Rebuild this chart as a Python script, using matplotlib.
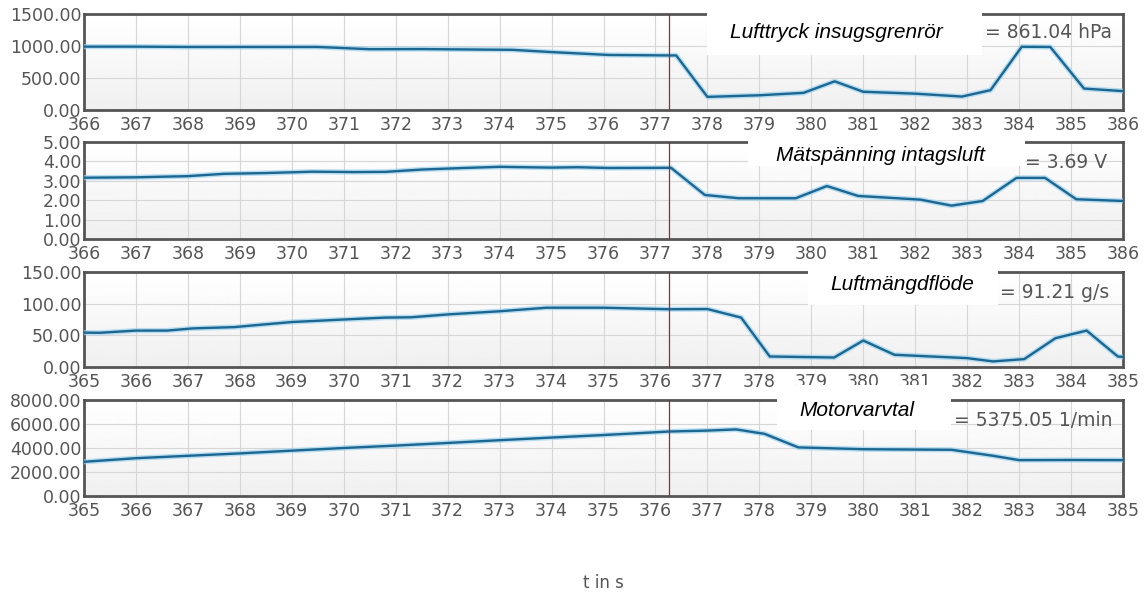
"""
Four stacked signal traces (air pressure, sensor voltage, air mass flow,
engine speed) with a cursor line and a value readout per panel.
"""

import numpy as np
import matplotlib.pyplot as plt
from matplotlib.patches import Rectangle

# ---------------------------------------------------------------------
# Data
# ---------------------------------------------------------------------

p1_t = [366, 367, 368, 370.5, 371.5, 372.5, 374.25, 375, 376.1, 377.4, 378.0,
        379.0, 379.85, 380.45, 381.0, 382.0, 382.9, 383.45, 384.05, 384.6,
        385.25, 386]
p1_v = [990, 990, 985, 985, 950, 952, 940, 905, 860, 852, 205,
        230, 268, 448, 285, 255, 210, 310, 988, 985,
        335, 295]

p2_t = [366, 367, 368, 368.7, 369.5, 370.4, 371.2, 371.8, 372.5, 373.3, 374.0,
        375, 375.5, 376.1, 377.3, 377.95, 378.6, 379.7, 380.3, 380.9, 382.1,
        382.7, 383.3, 383.95, 384.5, 385.1, 386]
p2_v = [3.16, 3.18, 3.24, 3.36, 3.40, 3.47, 3.45, 3.46, 3.58, 3.66, 3.72,
        3.68, 3.70, 3.66, 3.67, 2.27, 2.10, 2.10, 2.73, 2.22, 2.03,
        1.72, 1.96, 3.15, 3.15, 2.05, 1.96]

p3_t = [365, 365.3, 366, 366.6, 367.1, 367.9, 368.3, 369, 370, 370.8, 371.3,
        372, 373, 373.9, 375, 376.27, 377.0, 377.65, 378.2, 379.44, 380.0,
        380.6, 382.0, 382.5, 383.1, 383.7, 384.3, 384.9, 385]
p3_v = [54.3, 54, 57.5, 57.5, 61, 63, 66, 71, 75, 78, 78.5,
        83, 88, 93.6, 93.6, 91.2, 91.5, 78, 16.6, 15, 41.8,
        19.3, 14, 8.8, 12.5, 45.5, 57.5, 16.6, 16]

p4_t = [365, 366, 367, 368, 369, 370, 371, 372, 373, 374, 375, 376.27, 377,
        377.55, 378.1, 378.75, 380, 381.7, 382.5, 383.0, 384, 385]
p4_v = [2850, 3150, 3350, 3550, 3780, 4000, 4200, 4420, 4650, 4870, 5080,
        5375, 5450, 5550, 5180, 4050, 3900, 3850, 3350, 2990, 3000, 2990]

names = ["Lufttryck insugsgrenrör", "Mätspänning intagsluft",
         "Luftmängdflöde", "Motorvarvtal"]
readouts = ["= 861.04 hPa", "= 3.69 V", "= 91.21 g/s", "= 5375.05 1/min"]
x_ranges = [(366, 386), (366, 386), (365, 385), (365, 385)]
y_ticks = [[0, 500, 1000, 1500], [0, 1, 2, 3, 4, 5],
           [0, 50, 100, 150], [0, 2000, 4000, 6000, 8000]]
cursors = [377.27, 377.27, 376.27, 376.27]

# ---------------------------------------------------------------------
# Layout (pixel boxes in the 1145 x 593 picture)
# ---------------------------------------------------------------------

W, H = 1145, 593
panel_px = [(14, 110), (142, 239), (272, 367), (400, 496)]   # top, bottom
left_px, right_px = 84, 1123
label_boxes = [(707, 982, 0, 55), (748, 1025, 135, 166),
               (808, 998, 260, 305), (777, 951, 385, 430)]
label_xy = [(836, 33), (880, 155), (902, 284), (857, 411)]
readout_xy = [(985, 32), (1025, 162), (1000, 292), (954, 420)]

LINE = "#1b6792"
HALO = "#9fd3ee"
TEXT = "#555555"


def fx(px):
    return px / W


def fy(py):
    return 1 - py / H


def draw_panel(ax, t, v, xr, yt, cursor):
    """
    One trace panel: gradient background, grid, halo line, cursor.
    """
    grad = np.linspace(1.0, 0.94, 50).reshape(-1, 1)
    ax.imshow(grad, cmap="gray", vmin=0, vmax=1, aspect="auto",
              extent=[0, 1, 0, 1], transform=ax.transAxes, zorder=0)
    ax.plot(t, v, color=HALO, lw=3.8, alpha=0.7, zorder=3,
            solid_joinstyle="round")
    ax.plot(t, v, color=LINE, lw=1.7, zorder=4, solid_joinstyle="round")
    ax.axvline(cursor, color="#9b2b2b", lw=0.9, zorder=5)

    ax.set_xlim(*xr)
    ax.set_ylim(yt[0], yt[-1])
    ax.set_xticks(range(xr[0], xr[1] + 1))
    ax.set_yticks(yt)
    ax.set_yticklabels([f"{y:.2f}" for y in yt])
    ax.grid(True, color="#d6d6d6", lw=0.8, zorder=1)
    ax.set_axisbelow(True)
    ax.tick_params(length=0, labelsize=12.5, labelcolor=TEXT)
    ax.tick_params(axis="x", pad=4)
    ax.tick_params(axis="y", pad=2)
    for s in ax.spines.values():
        s.set_color("#555555")
        s.set_linewidth(2)


fig = plt.figure(figsize=(W / 100, H / 100), dpi=100)

series = [(p1_t, p1_v), (p2_t, p2_v), (p3_t, p3_v), (p4_t, p4_v)]
for i, (t, v) in enumerate(series):
    top, bot = panel_px[i]
    ax = fig.add_axes([fx(left_px), fy(bot), (right_px - left_px) / W,
                       (bot - top) / H])
    draw_panel(ax, t, v, x_ranges[i], y_ticks[i], cursors[i])

    # white label box laid over the top right of the panel
    x0, x1, y0, y1 = label_boxes[i]
    fig.patches.append(Rectangle((fx(x0), fy(y1)), (x1 - x0) / W,
                                 (y1 - y0) / H, transform=fig.transFigure,
                                 facecolor="white", edgecolor="none",
                                 zorder=10))
    fig.text(fx(label_xy[i][0]), fy(label_xy[i][1]), names[i],
             family="Liberation Sans", style="italic", fontsize=15,
             color="black", ha="center", va="center", zorder=11)
    fig.text(fx(readout_xy[i][0]), fy(readout_xy[i][1]), readouts[i],
             fontsize=13.5, color=TEXT, ha="left", va="center", zorder=11)

fig.text(fx(603), fy(583), "t in s", fontsize=12, color=TEXT,
         ha="center", va="center")

fig.savefig("out.png", dpi=100)
